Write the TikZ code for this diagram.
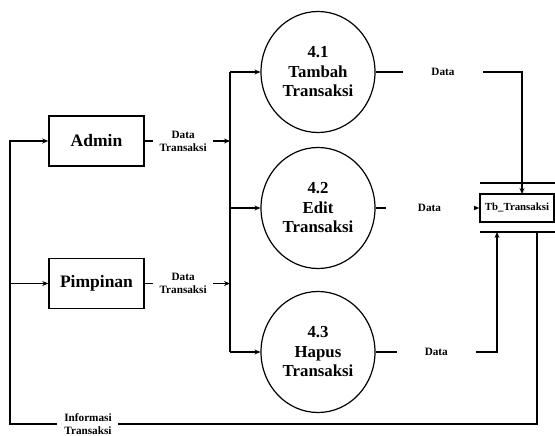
\documentclass[tikz,border=0pt]{standalone}
\usepackage{fontspec}
\setmainfont{Liberation Serif}
\usetikzlibrary{arrows.meta,shapes.geometric}

\begin{document}
\begin{tikzpicture}[x=1pt,y=-1pt,>={Stealth[length=6pt,width=5pt]},
  entity/.style={draw,line width=1.5pt,minimum width=95pt,minimum height=50pt,
  font=\fontsize{17.5}{20}\selectfont\bfseries},
  proc/.style={draw,ellipse,line width=1.2pt,minimum width=114pt,minimum height=121pt,
  inner sep=0pt,align=center,font=\fontsize{16.8}{19.5}\selectfont\bfseries},
  store/.style={draw,line width=1.5pt,minimum width=74pt,minimum height=28pt,
  inner sep=0pt,font=\fontsize{10.8}{12}\selectfont\bfseries},
  lbl/.style={fill=white,align=center,inner sep=1pt,font=\fontsize{11.2}{13}\selectfont\bfseries},
  flow/.style={line width=1.6pt},
  bus/.style={line width=1.2pt}]
  \useasboundingbox (0,0) rectangle (555,436);
  \node[entity] (admin) at (96.5,141) {Admin};
  \node[entity] (pimpinan) at (96.5,283.5) {Pimpinan};
  \node[proc] (p1) at (318,72) {4.1\\Tambah\\Transaksi};
  \node[proc] (p2) at (318,208) {4.2\\Edit\\Transaksi};
  \node[proc] (p3) at (318,352) {4.3\\Hapus\\Transaksi};
  \node[store] (tb) at (517,208) {Tb\_Transaksi};
  \coordinate (bus) at (230,0);
  \coordinate (in1) at (522,194);
  \coordinate (in3) at (497,232);
  \coordinate (out) at (537,232);
  \coordinate (ret) at (537,424);
  \coordinate (left) at (10,424);
  \draw[flow] (480,183) coordinate (tl) -- (555,183) coordinate (tr);
  \draw[flow] (480,232) coordinate (bl) -- (555,232) coordinate (br);
  \draw[flow,->] (admin.east) -- (admin -| bus)
    node[lbl,pos=.45,minimum width=60pt] {Data\\Transaksi};
  \draw[flow,->] (pimpinan.east) -- (pimpinan -| bus)
    node[lbl,pos=.45,minimum width=60pt] {Data\\Transaksi};
  \draw[bus] (bus |- p1.west) -- (bus |- p3.west);
  \foreach \p in {p1,p2,p3}
    \draw[bus,->] (bus |- \p.west) -- (\p.west);
  \draw[flow,->] (p1.east) -- (p1.east -| in1)
    node[lbl,pos=.46,minimum width=80pt] {Data} -- (in1);
  \draw[flow,->] (p2.east) -- (tb.west)
    node[lbl,pos=.52,minimum width=88pt] {Data};
  \draw[flow,->] (p3.east) -- (p3.east -| in3)
    node[lbl,pos=.5,minimum width=79pt] {Data} -- (in3);
  \draw[flow,->] (out) -- (ret) -- (left)
    node[lbl,pos=.852,minimum width=61pt] {Informasi\\Transaksi}
    -- (left |- admin) -- (admin.west);
  \draw[flow,->] (left |- pimpinan) -- (pimpinan.west);
\end{tikzpicture}
\end{document}
